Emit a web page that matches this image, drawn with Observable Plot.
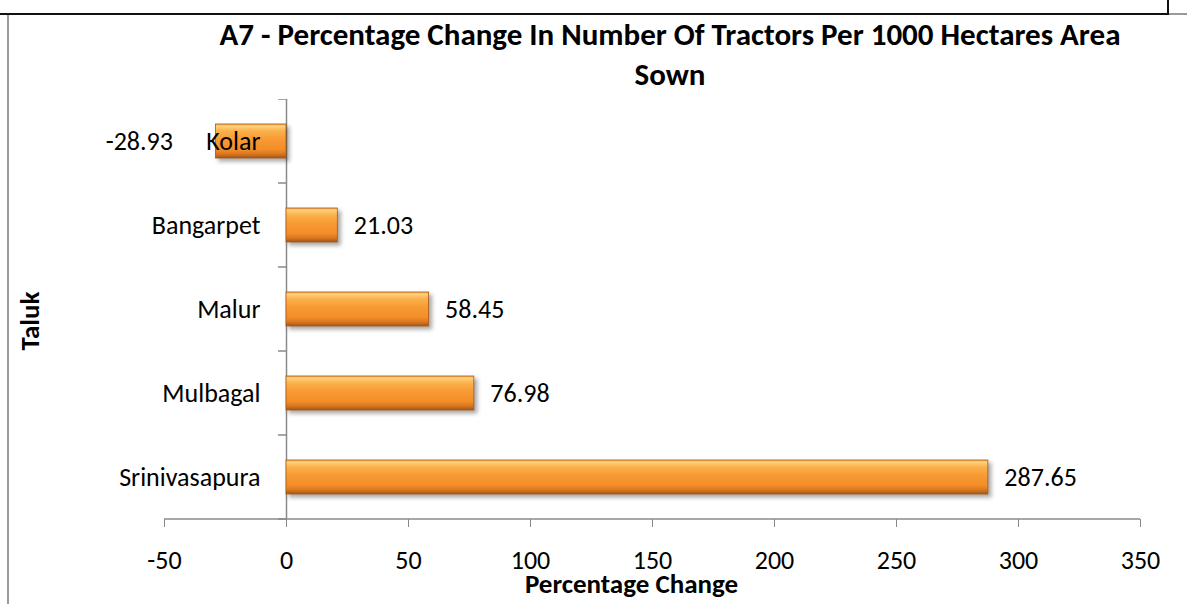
<!DOCTYPE html>
<html>
<head>
<meta charset="utf-8">
<script src="https://cdn.jsdelivr.net/npm/d3@7"></script>
<script src="https://cdn.jsdelivr.net/npm/@observablehq/plot@0.6"></script>
<style>
  html, body { margin: 0; padding: 0; background: #fff; overflow: hidden; }
  #wrap { position: relative; width: 1187px; height: 604px; font-family: Carlito, Lato, "Open Sans", sans-serif; }
  #header { position: relative; width: 1187px; height: 99px; }
  .title { position: absolute; left: 0; width: 1340px; top: 14px; text-align: center;
           font-weight: bold; font-size: 31px; line-height: 40px; color: #000; }
  .ytitle { position: absolute; left: -20px; top: 306px; width: 100px; height: 30px; line-height: 30px;
            text-align: center; font-weight: bold; font-size: 27px; color: #000; transform: rotate(-90deg); z-index: 2; }
  .bTop { position: absolute; left: 0; top: 13px; width: 1169px; height: 2px; background: #111; }
  .bRight { position: absolute; left: 1167px; top: 0; width: 2px; height: 15px; background: #111; }
  .bRight2 { position: absolute; left: 1169px; top: 13px; width: 18px; height: 2px; background: #999; }
  .bLeft { position: absolute; left: 7px; top: 15px; width: 2px; height: 589px; background: #9a9a9a; }
  g[aria-label="bar"] { filter: drop-shadow(3px 3px 2px rgba(0,0,0,0.35)); }
  #chart svg { display: block; }
</style>
</head>
<body>
<div id="wrap">
  <div class="bTop"></div><div class="bRight"></div><div class="bRight2"></div><div class="bLeft"></div>
  <div id="header"><div class="title">A7 - Percentage Change In Number Of Tractors Per 1000 Hectares Area<br>Sown</div></div>
  <div class="ytitle">Taluk</div>
  <div id="chart"></div>
</div>
<script>
const taluks = ["Kolar", "Bangarpet", "Malur", "Mulbagal", "Srinivasapura"];
const changes = [-28.93, 21.03, 58.45, 76.98, 287.65];
const xTicks = [-50, 0, 50, 100, 150, 200, 250, 300, 350];
const xTitle = "Percentage Change";

const data = taluks.map((t, i) => ({taluk: t, value: changes[i]}));
const pos = data.filter(d => d.value >= 0);
const neg = data.filter(d => d.value < 0);

const plot = Plot.plot({
  width: 1187,
  height: 505,
  marginLeft: 164,
  marginRight: 47,
  marginTop: 0,
  marginBottom: 85,
  style: {fontFamily: "Carlito, Lato, 'Open Sans', sans-serif", fontSize: "26px", color: "#000", background: "transparent"},
  x: {domain: [-50, 350], ticks: xTicks, axis: null},
  y: {domain: taluks, paddingInner: 0.595, paddingOuter: 0.2975, axis: null},
  marks: [
    Plot.ruleX([0], {stroke: "#8a8a8a", strokeWidth: 1.5}),
    Plot.barX(data, {x: "value", y: "taluk", fill: "url(#barGrad)", stroke: "#a9591a", strokeWidth: 0.8}),
    Plot.axisX({ticks: xTicks, tickSize: 8, tickPadding: 23, stroke: "#8a8a8a", fill: "#000", label: null, tickFormat: d => String(d), fontSize: 26}),
    Plot.text(taluks, {x: () => 0, y: d => d, text: d => d, textAnchor: "end", dx: -26, fill: "#000", fontSize: 26}),
    Plot.text(pos, {x: "value", y: "taluk", text: d => d.value.toFixed(2), textAnchor: "start", dx: 16, fill: "#000", fontSize: 26}),
    Plot.text(neg, {x: "value", y: "taluk", text: d => d.value.toFixed(2), textAnchor: "end", dx: -43, fill: "#000", fontSize: 26}),
    Plot.text([xTitle], {frameAnchor: "bottom", text: d => d, dy: 73, dx: -21, fontWeight: "bold", fontSize: 27, fill: "#000"})
  ]
});

document.getElementById("chart").appendChild(plot);

// gradient for bevelled bars
const svg = d3.select(plot);
const defs = svg.insert("defs", ":first-child");
const g = defs.append("linearGradient").attr("id", "barGrad").attr("x1", 0).attr("y1", 0).attr("x2", 0).attr("y2", 1);
[[0, "#f3a445"], [0.06, "#ffd27c"], [0.2, "#fbb24c"], [0.45, "#f89a34"], [0.75, "#f38d27"], [0.88, "#d8781f"], [1, "#a65518"]]
  .forEach(([o, c]) => g.append("stop").attr("offset", o).attr("stop-color", c));

// x-axis baseline and y-axis boundary ticks via the plot's scales
const xs = plot.scale("x"), ys = plot.scale("y");
const [y0, y1] = ys.range;
const x0 = xs.apply(0);
const extra = svg.append("g").attr("stroke", "#8a8a8a").attr("stroke-width", 1.5);
extra.append("line").attr("x1", xs.apply(xTicks[0])).attr("x2", xs.apply(xTicks[xTicks.length - 1])).attr("y1", y1).attr("y2", y1);
const step = (y1 - y0) / taluks.length;
for (let i = 0; i <= taluks.length; i++) {
  const yy = y0 + i * step;
  extra.append("line").attr("x1", x0 - 8).attr("x2", x0).attr("y1", yy).attr("y2", yy);
}
</script>
</body>
</html>
